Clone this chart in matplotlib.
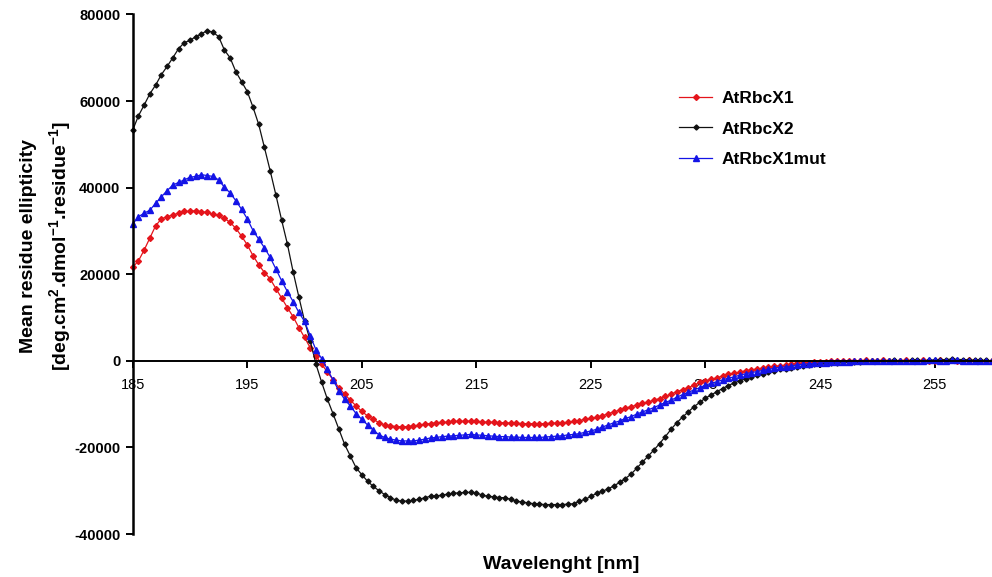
import numpy as np
import matplotlib
matplotlib.use('Agg')
import matplotlib.pyplot as plt

plt.rcParams['font.family'] = ['Liberation Sans', 'DejaVu Sans']
plt.rcParams['axes.unicode_minus'] = False
plt.rcParams['mathtext.fontset'] = 'custom'
plt.rcParams['mathtext.rm'] = 'Liberation Sans:bold'
plt.rcParams['mathtext.default'] = 'rm'

# wavelength grid, 0.5 nm steps from 185 to 260
wavelength = np.arange(185, 260.5, 0.5)

# mean residue ellipticity, in thousands
rbcx1 = [
    21.6, 23.1, 25.6, 28.4, 31.2, 32.8, 33.3, 33.7, 34.1, 34.5,
    34.5, 34.7, 34.4, 34.3, 33.9, 33.6, 32.9, 32.0, 30.6, 28.8,
    26.8, 24.3, 22.2, 20.4, 18.9, 16.7, 14.5, 12.3, 10.2, 7.7,
    5.4, 3.0, 1.2, -0.8, -2.6, -4.4, -6.2, -7.7, -9.1, -10.4,
    -11.7, -12.7, -13.5, -14.3, -14.8, -15.0, -15.2, -15.2, -15.2, -15.0,
    -14.9, -14.6, -14.5, -14.3, -14.2, -14.2, -14.0, -14.0, -14.0, -13.9,
    -14.0, -14.1, -14.2, -14.2, -14.3, -14.3, -14.4, -14.4, -14.5, -14.5,
    -14.5, -14.5, -14.5, -14.4, -14.4, -14.3, -14.2, -14.0, -13.8, -13.5,
    -13.3, -13.0, -12.7, -12.2, -11.8, -11.4, -10.9, -10.6, -10.2, -9.8,
    -9.5, -9.1, -8.7, -8.2, -7.7, -7.1, -6.7, -6.2, -5.6, -5.0,
    -4.7, -4.3, -3.9, -3.5, -3.1, -2.9, -2.6, -2.3, -2.1, -1.9,
    -1.7, -1.5, -1.3, -1.2, -1.0, -0.8, -0.6, -0.5, -0.4, -0.3,
    -0.2, -0.2, -0.1, -0.1, 0.0, 0.0, 0.0, 0.0, 0.1, 0.0,
    0.0, 0.1, 0.0, 0.0, 0.0, 0.1, 0.0, 0.0, 0.1, 0.0,
    0.0, 0.1, 0.0, 0.1, 0.0, 0.0, 0.1, 0.0, 0.0, 0.0,
    0.0,
]

rbcx2 = [
    53.3, 56.6, 59.1, 61.7, 63.7, 66.1, 68.0, 70.0, 72.1, 73.5,
    74.0, 74.9, 75.5, 76.3, 75.9, 74.9, 71.8, 70.0, 66.8, 64.5,
    62.2, 58.6, 54.6, 49.3, 43.9, 38.3, 32.5, 27.0, 20.6, 14.8,
    9.2, 4.6, -0.8, -5.0, -8.9, -12.3, -15.8, -19.3, -22.0, -24.7,
    -26.3, -27.8, -29.0, -30.0, -30.9, -31.6, -32.2, -32.4, -32.4, -32.2,
    -32.0, -31.6, -31.3, -31.2, -31.0, -30.8, -30.6, -30.5, -30.4, -30.4,
    -30.5, -31.0, -31.3, -31.4, -31.6, -31.6, -32.0, -32.4, -32.6, -32.8,
    -33.0, -33.1, -33.2, -33.2, -33.2, -33.2, -33.1, -33.0, -32.4, -32.0,
    -31.3, -30.6, -30.1, -29.6, -28.9, -28.1, -27.2, -26.2, -24.8, -23.4,
    -22.0, -20.6, -19.1, -17.5, -15.8, -14.3, -13.0, -11.8, -10.6, -9.6,
    -8.6, -7.9, -7.1, -6.4, -5.7, -5.1, -4.6, -4.1, -3.7, -3.3,
    -3.0, -2.6, -2.3, -2.0, -1.8, -1.6, -1.4, -1.2, -1.0, -0.8,
    -0.7, -0.6, -0.5, -0.4, -0.3, -0.3, -0.2, -0.2, -0.1, -0.1,
    0.0, 0.0, 0.0, 0.1, 0.0, 0.0, 0.1, 0.1, 0.0, 0.1,
    0.2, 0.2, 0.3, 0.4, 0.3, 0.3, 0.2, 0.1, 0.1, 0.1,
    0.0,
]

rbcx1mut = [
    31.6, 33.3, 34.1, 34.8, 36.4, 37.9, 39.3, 40.6, 41.2, 41.8,
    42.4, 42.6, 43.0, 42.8, 42.6, 41.8, 40.1, 38.8, 37.0, 35.0,
    32.8, 30.1, 28.1, 26.1, 23.9, 21.2, 18.5, 16.0, 13.7, 11.2,
    9.1, 5.8, 2.5, 0.5, -2.0, -4.5, -6.9, -8.9, -10.4, -12.2,
    -13.5, -14.8, -16.0, -17.1, -17.7, -18.1, -18.3, -18.5, -18.5, -18.5,
    -18.3, -18.1, -17.8, -17.7, -17.5, -17.4, -17.3, -17.2, -17.1, -17.0,
    -17.1, -17.2, -17.3, -17.4, -17.5, -17.5, -17.6, -17.6, -17.7, -17.7,
    -17.7, -17.7, -17.6, -17.5, -17.4, -17.3, -17.1, -17.0, -16.8, -16.5,
    -16.2, -15.8, -15.3, -14.8, -14.3, -13.9, -13.3, -12.9, -12.3, -11.8,
    -11.3, -10.8, -10.2, -9.6, -9.1, -8.4, -7.8, -7.3, -6.7, -6.2,
    -5.6, -5.2, -4.8, -4.4, -4.0, -3.7, -3.3, -3.0, -2.7, -2.5,
    -2.2, -2.0, -1.7, -1.5, -1.4, -1.2, -0.9, -0.8, -0.7, -0.6,
    -0.5, -0.4, -0.3, -0.3, -0.2, -0.2, -0.1, -0.1, -0.1, 0.0,
    0.0, 0.0, 0.0, -0.1, 0.0, 0.0, 0.0, 0.0, 0.0, 0.1,
    0.1, 0.0, 0.0, 0.1, 0.1, 0.0, 0.0, 0.0, 0.0, 0.0,
    0.0,
]

xticks = [185, 195, 205, 215, 225, 235, 245, 255]
yticks = [-40000, -20000, 0, 20000, 40000, 60000, 80000]

fig = plt.figure(figsize=(9.92, 5.77), dpi=100)
ax = fig.add_axes([0.1338, 0.0745, 0.866, 0.9004])

ax.plot(wavelength, np.array(rbcx1) * 1000, color='#e4141b', lw=0.9,
        marker='D', ms=3, label='AtRbcX1', clip_on=False)
ax.plot(wavelength, np.array(rbcx2) * 1000, color='#111111', lw=0.9,
        marker='D', ms=2.6, label='AtRbcX2', clip_on=False)
ax.plot(wavelength, np.array(rbcx1mut) * 1000, color='#1414e6', lw=0.9,
        marker='^', ms=4, label='AtRbcX1mut', clip_on=False)

ax.set_xlim(185, 260)
ax.set_ylim(-40000, 80000)

ax.spines['top'].set_visible(False)
ax.spines['right'].set_visible(False)
ax.spines['bottom'].set_position(('data', 0))
ax.spines['left'].set_linewidth(1.8)
ax.spines['bottom'].set_linewidth(1.4)

ax.set_xticks(xticks)
ax.set_yticks(yticks)
ax.set_yticklabels([str(v) for v in yticks], fontsize=10.5, fontweight='bold')
ax.set_xticklabels([str(v) for v in xticks], fontsize=10.5)
ax.tick_params(axis='y', direction='out', length=5, width=1.4, pad=4)
ax.tick_params(axis='x', direction='out', length=5, width=1.4, pad=7)

fig.text(0.047, 0.574,
         'Mean residue ellipticity\n'
         '[deg.cm$^{2}$.dmol$^{-1}$.residue$^{-1}$]',
         rotation=90, ha='center', va='center', fontsize=14,
         fontweight='bold', linespacing=1.5, multialignment='center')
fig.text(0.566, 0.021, 'Wavelenght [nm]', ha='center', va='center',
         fontsize=14, fontweight='bold')

leg = ax.legend(loc='upper left', bbox_to_anchor=(0.676, 0.858),
                bbox_transform=fig.transFigure, frameon=False,
                prop={'weight': 'bold', 'size': 12.5},
                handlelength=1.9, handletextpad=0.55, labelspacing=0.9,
                borderpad=0)

fig.savefig('out.png', dpi=100)
